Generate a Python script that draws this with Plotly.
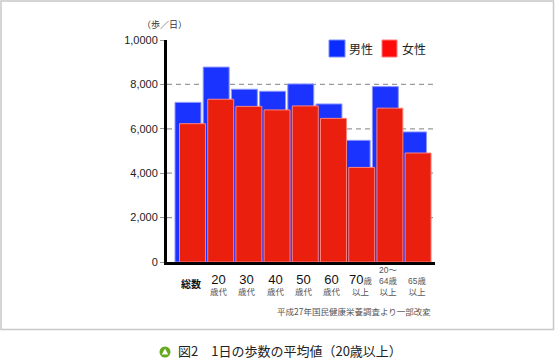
import plotly.graph_objects as go

# ---- data ----
categories = ["総数", "20歳代", "30歳代", "40歳代", "50歳代", "60歳代", "70歳以上", "20〜64歳以上", "65歳以上"]
tick_labels = [
    "<b>総数</b>",
    "<span style='font-size:13px;color:#111'>20</span><br>歳代",
    "<span style='font-size:13px;color:#111'>30</span><br>歳代",
    "<span style='font-size:13px;color:#111'>40</span><br>歳代",
    "<span style='font-size:13px;color:#111'>50</span><br>歳代",
    "<span style='font-size:13px;color:#111'>60</span><br>歳代",
    "<span style='font-size:13px;color:#111'>70</span>歳<br>以上",
    "20〜<br>64歳<br>以上",
    "65歳<br>以上",
]
male = [7190, 8780, 7780, 7690, 8020, 7120, 5480, 7900, 5860]
female = [6230, 7330, 7010, 6850, 7030, 6470, 4260, 6930, 4910]
y_tickvals = [0, 2000, 4000, 6000, 8000, 10000]
y_ticktext = ["0", "2,000", "4,000", "6,000", "8,000", "1,0000"]
grid_vals = [2000, 4000, 6000, 8000]
series_names = ["男性", "女性"]
y_unit = "（歩／日）"
source_note = "平成27年国民健康栄養調査より一部改変"
caption = "図2　1日の歩数の平均値（20歳以上）"

# ---- style / layout ----
W, H = 555, 360
L, R, T, B = 167, 435, 40, 262
BLUE, RED = "#1a33ff", "#ea1f0e"
FONT = "Arial, 'Liberation Sans', 'Noto Sans CJK JP', sans-serif"
JFONT = "'Noto Sans CJK JP', sans-serif"


def px2x(px):
    return (px - L) / (R - L)


def px2y(py):
    return (B - py) / (B - T)


x = list(range(len(categories)))

fig = go.Figure()
fig.add_bar(x=x, y=male, name=series_names[0], width=0.92, offset=-0.5,
            marker=dict(color=BLUE, line=dict(color="rgba(140,150,255,1)", width=1)),
            showlegend=False)
fig.add_bar(x=x, y=female, name=series_names[1], width=0.92, offset=-0.34,
            marker=dict(color=RED, line=dict(color="rgba(255,130,120,1)", width=1)),
            showlegend=False)

shapes = []
for v in grid_vals:
    shapes.append(dict(type="line", xref="paper", x0=0, x1=1, yref="y", y0=v, y1=v,
                       line=dict(color="#9a9a9a", width=1.2, dash="5px,4px"), layer="below"))

# outer border
shapes.append(dict(type="rect", xref="paper", yref="paper",
                   x0=px2x(1), x1=px2x(553.5), y0=px2y(329.5), y1=px2y(1),
                   line=dict(color="#c8c8c8", width=1.5), layer="below"))

# legend squares
shapes.append(dict(type="rect", xref="paper", yref="paper",
                   x0=px2x(329), x1=px2x(345), y0=px2y(57), y1=px2y(40),
                   fillcolor="#0a2cff", line=dict(color="rgba(120,140,255,1)", width=1)))
shapes.append(dict(type="rect", xref="paper", yref="paper",
                   x0=px2x(382), x1=px2x(397), y0=px2y(57), y1=px2y(40),
                   fillcolor="#ff0a0a", line=dict(color="rgba(255,120,120,1)", width=1)))

# caption icon
shapes.append(dict(type="circle", xref="paper", yref="paper",
                   x0=px2x(159.5), x1=px2x(170.5), y0=px2y(357.5), y1=px2y(346.5),
                   fillcolor="#66a81c", line=dict(width=0)))
tri = "M {} {} L {} {} L {} {} Z".format(px2x(165), px2y(348.5), px2x(161.8), px2y(354.5),
                                         px2x(168.2), px2y(354.5))
shapes.append(dict(type="path", xref="paper", yref="paper", path=tri,
                   fillcolor="white", line=dict(width=0)))

annotations = []
annotations.append(dict(text=series_names[0], xref="paper", yref="paper", x=px2x(347), y=px2y(48.5),
                        xanchor="left", yanchor="middle", showarrow=False,
                        font=dict(family=JFONT, size=12, color="#222")))
annotations.append(dict(text=series_names[1], xref="paper", yref="paper", x=px2x(400), y=px2y(48.5),
                        xanchor="left", yanchor="middle", showarrow=False,
                        font=dict(family=JFONT, size=12, color="#222")))
annotations.append(dict(text=y_unit, xref="paper", yref="paper", x=px2x(164), y=px2y(24),
                        xanchor="center", yanchor="middle", showarrow=False,
                        font=dict(family=JFONT, size=9, color="#333")))
annotations.append(dict(text=source_note, xref="paper", yref="paper", x=px2x(433), y=px2y(311),
                        xanchor="right", yanchor="middle", showarrow=False,
                        font=dict(family=JFONT, size=8.5, color="#555")))
annotations.append(dict(text=caption, xref="paper", yref="paper", x=px2x(177), y=px2y(350.5),
                        xanchor="left", yanchor="middle", showarrow=False, borderpad=0,
                        font=dict(family=JFONT, size=13, color="#222")))

for i, lab in enumerate(tick_labels):
    annotations.append(dict(text=lab, xref="x", yref="paper", x=i + 0.07, y=px2y(299),
                            xanchor="center", yanchor="bottom", showarrow=False,
                            yshift=7 if i == 0 else 0,
                            font=dict(family=FONT, size=10 if i == 0 else 8.5,
                                      color="#111" if i == 0 else "#555")))

fig.update_layout(
    width=W, height=H,
    margin=dict(l=L, r=W - R, t=T, b=H - B, pad=0),
    barmode="overlay",
    plot_bgcolor="white", paper_bgcolor="white",
    font=dict(family=FONT, size=11, color="#222"),
    shapes=shapes, annotations=annotations,
    xaxis=dict(range=[-0.784, 8.72], showline=True, linecolor="black", linewidth=3,
               showticklabels=False, ticks="", showgrid=False, zeroline=False, fixedrange=True),
    yaxis=dict(range=[0, 10000], tickvals=y_tickvals, ticktext=y_ticktext,
               ticks="outside", ticklen=4, tickcolor="#999", tickwidth=1,
               showline=True, linecolor="black", linewidth=3,
               showgrid=False, zeroline=False, fixedrange=True,
               tickfont=dict(family=FONT, size=11, color="#222")),
)

fig.write_html("out.html", config={"displayModeBar": False},
               post_script="document.body.style.margin='0';document.body.style.overflow='hidden';")
